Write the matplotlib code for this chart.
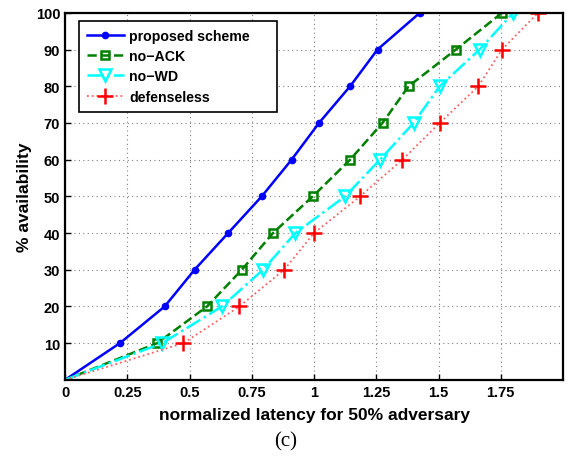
import matplotlib
matplotlib.use("Agg")
import matplotlib.pyplot as plt

plt.rcParams['font.family'] = ['Liberation Sans', 'DejaVu Sans']
plt.rcParams['font.weight'] = 'bold'

availability = [0, 10, 20, 30, 40, 50, 60, 70, 80, 90, 100]
proposed = [0, 0.22, 0.40, 0.52, 0.655, 0.79, 0.91, 1.02, 1.145, 1.255, 1.425]
no_ack = [0, 0.37, 0.57, 0.71, 0.835, 0.995, 1.145, 1.275, 1.38, 1.57, 1.755]
no_wd = [0, 0.39, 0.63, 0.795, 0.925, 1.125, 1.265, 1.40, 1.505, 1.665, 1.80]
defenseless = [0, 0.475, 0.70, 0.88, 1.0, 1.185, 1.355, 1.505, 1.66, 1.755, 1.90]
labels = ['proposed scheme', 'no\u2212ACK', 'no\u2212WD', 'defenseless']

xticks = [0, 0.25, 0.5, 0.75, 1, 1.25, 1.5, 1.75]
xticklabels = ['0', '0.25', '0.5', '0.75', '1', '1.25', '1.5', '1.75']
yticks = [10, 20, 30, 40, 50, 60, 70, 80, 90, 100]

fig = plt.figure(figsize=(5.71, 4.60), dpi=100)
ax = fig.add_axes([0.114, 0.172, 0.872, 0.798])

mk = slice(1, None)
ax.plot(proposed, availability, '-', color='blue', marker='.', ms=9, lw=1.8, markevery=mk, label=labels[0])
ax.plot(no_ack, availability, '--', color='green', marker='s', ms=5.5, mfc='none', mew=1.8, lw=1.8,
        markevery=mk, label=labels[1])
ax.plot(no_wd, availability, '-.', color='cyan', marker='v', ms=8, mfc='none', mew=1.8, lw=1.8,
        markevery=mk, label=labels[2])
ax.plot(defenseless, availability, ':', color='#ff6060', marker='+', ms=11, mew=1.8, mec='red', lw=1.3,
        markevery=mk, label=labels[3])

ax.set_xlim(0, 2.0)
ax.set_ylim(0, 100)
ax.set_xticks(xticks)
ax.set_xticklabels(xticklabels)
ax.set_yticks(yticks)
ax.tick_params(direction='in', labelsize=10.5, length=4, width=1)
ax.grid(True, linestyle=(0, (1, 3)), color='gray', lw=0.8)
for s in ax.spines.values():
    s.set_linewidth(1.6)

ax.set_xlabel('normalized latency for 50% adversary', fontsize=12.5, fontweight='bold', labelpad=6)
ax.set_ylabel('% availability', fontsize=12.5, fontweight='bold', labelpad=3)

# MATLAB legends leave a wide gap on the right of the text
leg = ax.legend(loc='upper left', fontsize=10.2, fancybox=False, framealpha=1,
                edgecolor='black', borderpad=0.55, handlelength=2.6, handletextpad=0.4,
                labelspacing=0.45, borderaxespad=0, bbox_to_anchor=(0.028, 0.978))
leg.get_frame().set_linewidth(1.2)
leg.get_texts()[0].set_text(labels[0] + '\u00a0' * 5)

fig.text(0.5, 0.04, '(c)', ha='center', va='center', fontsize=15,
         family='Liberation Serif', fontweight='normal')

fig.savefig('out.png', dpi=100)
